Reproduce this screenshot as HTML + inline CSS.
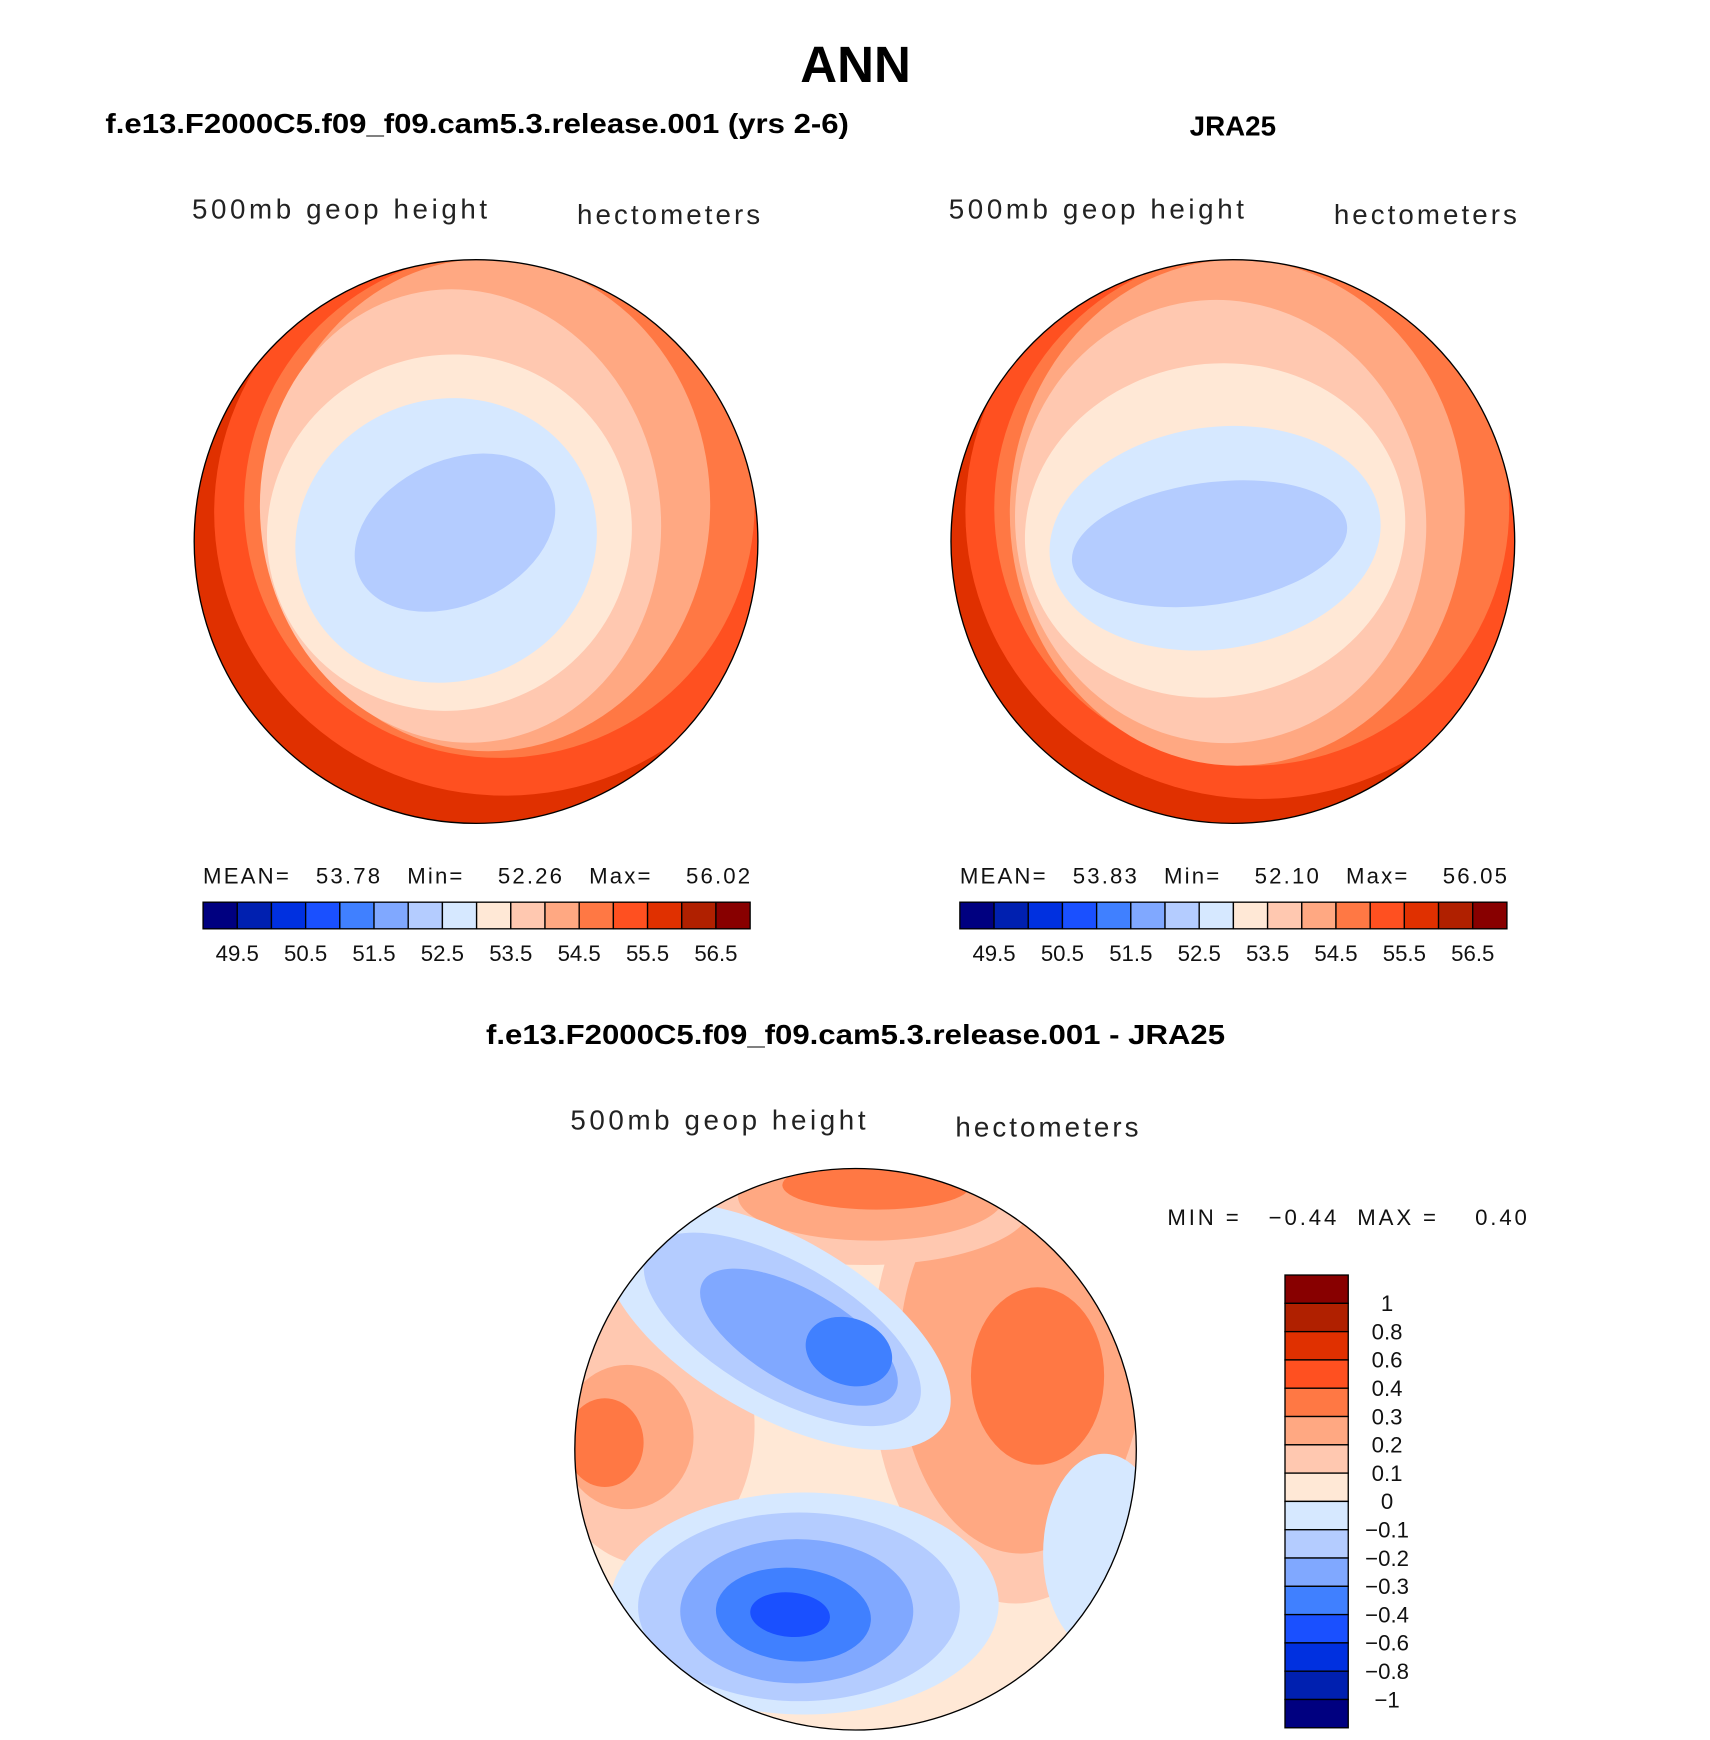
<!DOCTYPE html>
<html><head><meta charset="utf-8"><style>
html,body{margin:0;padding:0;background:#fff;}
svg{display:block;}
text{font-family:"Liberation Sans",sans-serif;}
.lt{font-size:25px;fill:#222;}
.tk{font-size:20px;fill:#111;}
</style></head><body>
<svg id="fig" width="1710" height="1740" viewBox="0 0 1541 1568" preserveAspectRatio="none" xmlns="http://www.w3.org/2000/svg">
<defs>
<clipPath id="c1"><circle cx="429" cy="488" r="254"/></clipPath>
<clipPath id="c2"><circle cx="1111" cy="488" r="254"/></clipPath>
<clipPath id="c3"><circle cx="771" cy="1306" r="253"/></clipPath>
</defs>
<text x="771" y="74" text-anchor="middle" font-size="46" font-weight="bold">ANN</text>
<text x="95" y="120" font-size="25" font-weight="bold" textLength="670" lengthAdjust="spacingAndGlyphs">f.e13.F2000C5.f09_f09.cam5.3.release.001 (yrs 2-6)</text>
<text x="1111" y="122" text-anchor="middle" font-size="25" font-weight="bold">JRA25</text>
<text x="438" y="941" font-size="25" font-weight="bold" textLength="666" lengthAdjust="spacingAndGlyphs">f.e13.F2000C5.f09_f09.cam5.3.release.001 - JRA25</text>

<text class="lt" x="173" y="197" textLength="266">500mb  geop  height</text>
<text class="lt" x="520" y="202" textLength="165">hectometers</text>
<text class="lt" x="855" y="197" textLength="266">500mb  geop  height</text>
<text class="lt" x="1202" y="202" textLength="165">hectometers</text>
<text class="lt" x="514" y="1018" textLength="266">500mb  geop  height</text>
<text class="lt" x="861" y="1024" textLength="165">hectometers</text>

<text class="tk" x="183" y="796" font-size="21" textLength="493" xml:space="preserve">MEAN=   53.78   Min=    52.26   Max=    56.02</text>
<text class="tk" x="865" y="796" font-size="21" textLength="493" xml:space="preserve">MEAN=   53.83   Min=    52.10   Max=    56.05</text>
<text class="tk" x="1052" y="1104" font-size="21" textLength="324" xml:space="preserve">MIN =   −0.44  MAX =    0.40</text>

<g id="m1" clip-path="url(#c1)"></g>
<g id="m2" clip-path="url(#c2)"></g>
<g id="m3" clip-path="url(#c3)"></g>
<circle cx="429" cy="488" r="254" fill="none" stroke="#000" stroke-width="1.2"/>
<circle cx="1111" cy="488" r="254" fill="none" stroke="#000" stroke-width="1.2"/>
<circle cx="771" cy="1306" r="253" fill="none" stroke="#000" stroke-width="1.2"/>
<g id="cb1"></g>
<g id="cb2"></g>
<g id="cb3"></g>
</svg>
<script>
const colors = ["#000080","#0020b0","#0030e0","#1a50ff","#4080ff","#80a8ff","#b4ccff","#d6e8ff","#ffe8d6","#ffc8b0","#ffa882","#ff7844","#ff5020","#e03000","#b02000","#880000"];
const meanTicks = ["49.5","50.5","51.5","52.5","53.5","54.5","55.5","56.5"];
const diffTicks = ["1","0.8","0.6","0.4","0.3","0.2","0.1","0","\u22120.1","\u22120.2","\u22120.3","\u22120.4","\u22120.6","\u22120.8","\u22121"];
// contour band layers: [colorIndex, cx, cy, rx, ry, rotation]
const leftBands = [[13,429,488,260,260,0],[12,455,462,262,255,0],[11,450,455,230,228,0],[10,440,455,200,222,0],[9,415,465,180,205,-10],[8,405,480,165,160,-20],[7,402,487,137,127,-20],[6,410,480,95,65,-25]];
const rightBands = [[13,1111,488,260,260,0],[12,1135,462,265,258,0],[11,1128,458,232,232,0],[10,1115,462,205,228,0],[9,1100,470,185,200,-8],[8,1095,478,172,150,-10],[7,1095,485,150,100,-8],[6,1090,490,125,55,-8]];
const diffBands = [[8,771,1306,260,260,0],[9,915,1230,130,215,0],[10,920,1225,110,175,0],[11,935,1240,60,80,0],[9,780,1085,150,55,0],[10,785,1078,120,40,0],[11,790,1068,85,22,0],[9,585,1285,95,125,0],[10,565,1295,60,65,0],[11,545,1300,35,40,0],[7,995,1400,55,90,0],[7,700,1195,175,80,30],[6,705,1198,140,60,30],[5,720,1205,100,42,30],[4,765,1218,40,30,20],[7,725,1445,175,100,0],[6,720,1448,145,85,0],[5,718,1452,105,65,0],[4,715,1455,70,42,5],[3,712,1455,36,20,5]];
const NS="http://www.w3.org/2000/svg";
function drawBands(id,bands){
  const g=document.getElementById(id);
  bands.forEach(b=>{
    const e=document.createElementNS(NS,'ellipse');
    e.setAttribute('cx',b[1]);e.setAttribute('cy',b[2]);e.setAttribute('rx',b[3]);e.setAttribute('ry',b[4]);
    e.setAttribute('transform','rotate('+b[5]+' '+b[1]+' '+b[2]+')');
    e.setAttribute('fill',colors[b[0]]);
    
    
    g.appendChild(e);
  });
}
drawBands('m1',leftBands);drawBands('m2',rightBands);drawBands('m3',diffBands);
function hbar(id,x0,x1,y0,y1){
  const g=document.getElementById(id);const w=(x1-x0)/colors.length;
  colors.forEach((c,i)=>{
    const r=document.createElementNS(NS,'rect');
    r.setAttribute('x',x0+i*w);r.setAttribute('y',y0);r.setAttribute('width',w);r.setAttribute('height',y1-y0);
    r.setAttribute('fill',c);r.setAttribute('stroke','#000');r.setAttribute('stroke-width','1.2');
    
    
    g.appendChild(r);
  });
  meanTicks.forEach((t,i)=>{
    const tx=document.createElementNS(NS,'text');
    tx.setAttribute('x',x0+(2*i+1)*w);tx.setAttribute('y',y1+29);tx.setAttribute('text-anchor','middle');tx.setAttribute('class','tk');
    tx.textContent=t;
    
    
    g.appendChild(tx);
  });
}
hbar('cb1',183,676,813,837);hbar('cb2',865,1358,813,837);
(function(){
  const g=document.getElementById('cb3');const x0=1158,x1=1215,y0=1149,y1=1557;const h=(y1-y0)/colors.length;
  colors.slice().reverse().forEach((c,i)=>{
    const r=document.createElementNS(NS,'rect');
    r.setAttribute('x',x0);r.setAttribute('y',y0+i*h);r.setAttribute('width',x1-x0);r.setAttribute('height',h);
    r.setAttribute('fill',c);r.setAttribute('stroke','#000');r.setAttribute('stroke-width','1.2');
    
    
    g.appendChild(r);
  });
  diffTicks.forEach((t,i)=>{
    const tx=document.createElementNS(NS,'text');
    tx.setAttribute('x',1250);tx.setAttribute('y',y0+(i+1)*h+7);tx.setAttribute('text-anchor','middle');tx.setAttribute('class','tk');
    tx.textContent=t;
    
    
    g.appendChild(tx);
  });
})();
</script>
</body></html>
